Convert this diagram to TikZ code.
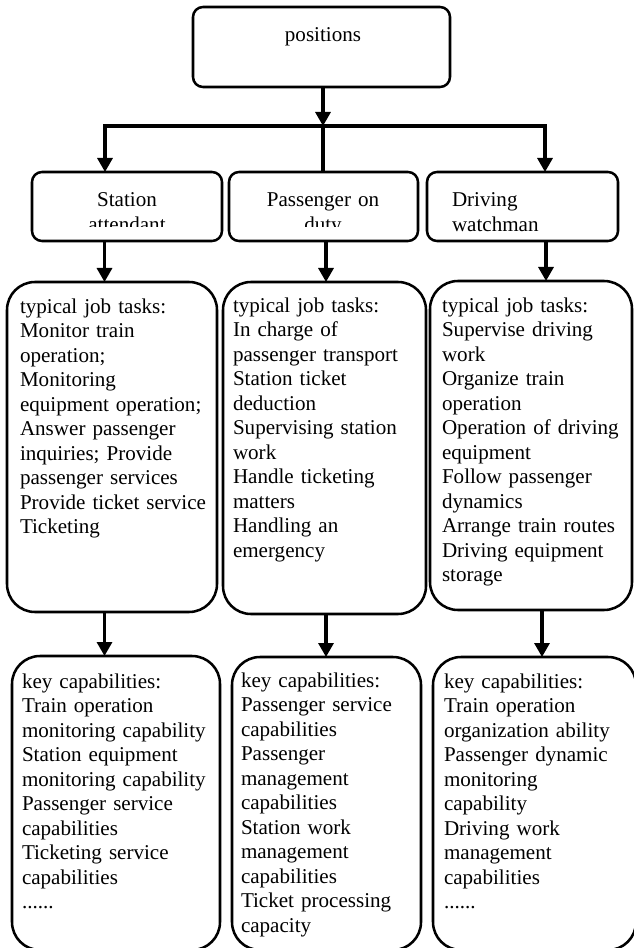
\documentclass[tikz,border=0pt]{standalone}
\usepackage{fontspec}
\setmainfont{Liberation Serif}
\usetikzlibrary{arrows.meta}
\begin{document}
\begin{tikzpicture}[x=0.75pt,y=-0.75pt,
  box/.style={draw, line width=1.9pt, rounded corners=7.5pt, inner sep=0pt, outer sep=0pt},
  bigbox/.style={draw, line width=1.9pt, rounded corners=21pt, inner sep=0pt, outer sep=0pt},
  txt/.style={inner sep=0pt, outer sep=0pt, font=\fontsize{15.8}{18.4}\selectfont, align=left, text width=150pt, anchor=base west},
  ctxt/.style={inner sep=0pt, outer sep=0pt, font=\fontsize{15.8}{18.4}\selectfont, align=center, text width=140pt, anchor=base},
  conn/.style={line width=2.4pt},
  arr/.style={conn, -{Triangle[length=10.5pt,width=11.25pt]}}]
\useasboundingbox (0,0) rectangle (633,948);

% boxes
\node[box, minimum width=192.75pt, minimum height=60pt] (top) at (321.5,47) {};
\node[box, minimum width=142.5pt, minimum height=51.75pt] (S) at (127,206.5) {};
\node[box, minimum width=141.75pt, minimum height=51.75pt] (P) at (323.5,206.5) {};
\node[box, minimum width=143.25pt, minimum height=51.75pt] (D) at (522.5,206.5) {};
\node[bigbox, minimum width=157.5pt, minimum height=247.5pt] (L3) at (112,447) {};
\node[bigbox, minimum width=152.25pt, minimum height=249pt] (M3) at (324.5,448) {};
\node[bigbox, minimum width=151.5pt, minimum height=246.75pt] (R3) at (531,445.5) {};
\node[bigbox, minimum width=156pt, minimum height=220.5pt] (L4) at (116,803) {};
\node[bigbox, minimum width=141.75pt, minimum height=219.75pt] (M4) at (326.5,803.5) {};
\node[bigbox, minimum width=152.25pt, minimum height=219.75pt] (R4) at (534.5,803.5) {};

% texts
\node[ctxt] (ttop) at (323,42) {positions};
\begin{scope}
\clip (32,172) rectangle (420,227);
\node[ctxt] (tS) at (127,207) {Station\\attendant};
\node[ctxt] (tP) at (323,207) {Passenger on\\duty};
\end{scope}
\node[txt] (tD) at (452,207) {Driving\\watchman};

\node[txt] (tL3) at (20,313) {typical job tasks:\\Monitor train\\operation;\\Monitoring\\equipment operation;\\Answer passenger\\inquiries; Provide\\passenger services\\Provide ticket service\\Ticketing};
\node[txt] (tM3) at (233,312) {typical job tasks:\\In charge of\\passenger transport\\Station ticket\\deduction\\Supervising station\\work\\Handle ticketing\\matters\\Handling an\\emergency};
\node[txt] (tR3) at (442,312) {typical job tasks:\\Supervise driving\\work\\Organize train\\operation\\Operation of driving\\equipment\\Follow passenger\\dynamics\\Arrange train routes\\Driving equipment\\storage};

\node[txt] (tL4) at (22,688) {key capabilities:\\Train operation\\monitoring capability\\Station equipment\\monitoring capability\\Passenger service\\capabilities\\Ticketing service\\capabilities\\......};
\node[txt] (tM4) at (241,687) {key capabilities:\\Passenger service\\capabilities\\Passenger\\management\\capabilities\\Station work\\management\\capabilities\\Ticket processing\\capacity};
\node[txt] (tR4) at (444,688) {key capabilities:\\Train operation\\organization ability\\Passenger dynamic\\monitoring\\capability\\Driving work\\management\\capabilities\\......};

% connectors
\coordinate (J) at (323,126);
\coordinate (BL) at (105,126);
\coordinate (BR) at (545,126);
\coordinate (xa) at (104.5,0);
\coordinate (xb) at (326,0);
\coordinate (xc) at (546,0);
\coordinate (xd) at (542,0);

\draw[arr] (J |- top.south) -- (J);
\draw[conn] (J) -- (J |- P.north);
\draw[arr] (J) -| (BL |- S.north);
\draw[arr] (J) -| (BR |- D.north);

\draw[arr] (xa |- S.south) -- (xa |- L3.north);
\draw[arr] (xb |- P.south) -- (xb |- M3.north);
\draw[arr] (xc |- D.south) -- (xc |- R3.north);

\draw[arr] (xa |- L3.south) -- (xa |- L4.north);
\draw[arr] (xb |- M3.south) -- (xb |- M4.north);
\draw[arr] (xd |- R3.south) -- (xd |- R4.north);
\end{tikzpicture}
\end{document}
